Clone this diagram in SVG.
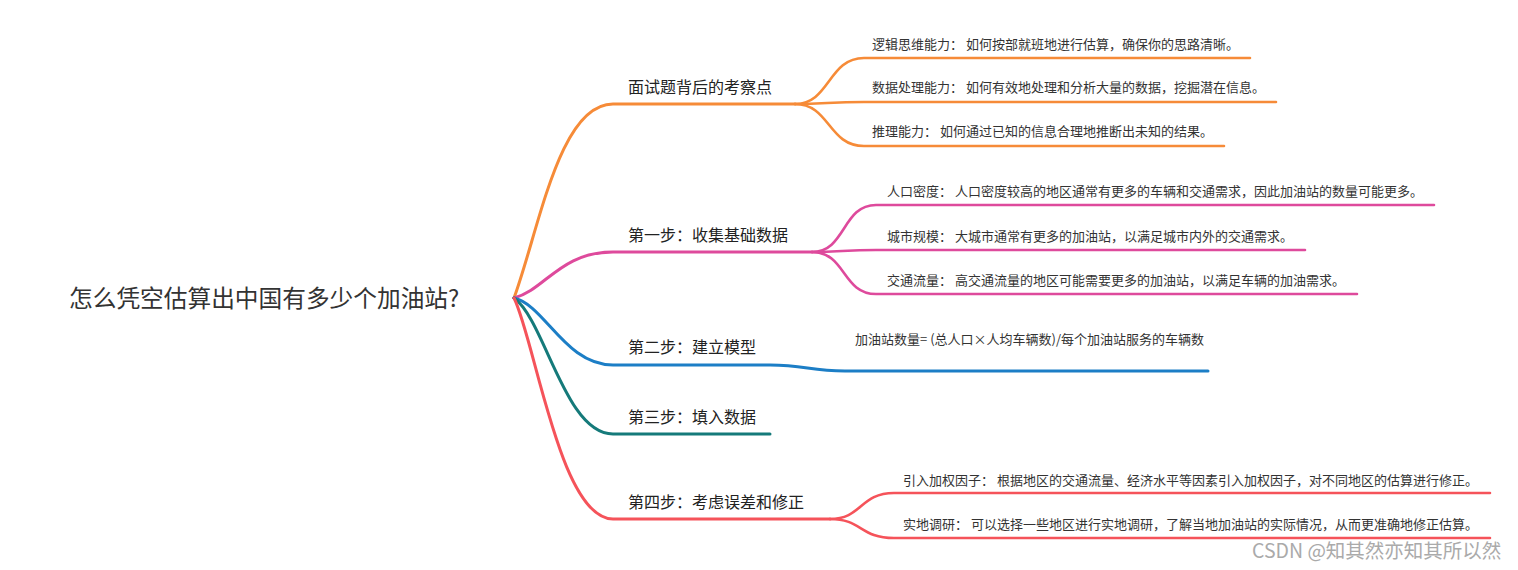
<svg xmlns="http://www.w3.org/2000/svg" width="1518" height="570" viewBox="0 0 1518 570">
<style>
text{font-family:"Noto Sans CJK SC","Noto Sans",sans-serif;fill:#333}
.root{font-size:23.7px;fill:#333}
.main{font-size:16px;fill:#222}
.sub{font-size:13px;fill:#333}
.wm{font-size:19.5px;fill:#aaa}
path{fill:none;stroke-linecap:round}
.m{stroke-width:3}
.s{stroke-width:2.6}
.o{stroke:#F68B38}.p{stroke:#DE4A9C}.b{stroke:#1C7EC6}.t{stroke:#157A7A}.r{stroke:#F5535A}
</style>
<g id="connectors">
<path class="m o" d="M514,298 C539,230 559,104 613,104 H795"/>
<path class="s o" d="M795,104 C830,104 828,58 864,58 H1250"/>
<path class="s o" d="M795,104 C825,104 830,102 864,102 H1276"/>
<path class="s o" d="M795,104 C830,104 828,146 864,146 H1224"/>
<path class="m p" d="M514,298 C545,290 560,252 613,252 H812"/>
<path class="s p" d="M812,252 C846,252 842,205 876,205 H1434"/>
<path class="s p" d="M812,252 C840,252 845,250 876,250 H1305"/>
<path class="s p" d="M812,252 C846,252 842,294 876,294 H1357"/>
<path class="m b" d="M514,298 C545,305 565,365 613,365 H770 C805,365 810,371 845,371 H1208"/>
<path class="m t" d="M514,298 C545,320 565,434 613,434 H770"/>
<path class="m r" d="M514,298 C535,340 560,519 613,519 H830"/>
<path class="s r" d="M830,519 C862,519 860,493 894,493 H1490"/>
<path class="s r" d="M830,519 C862,519 860,538 894,538 H1490"/>
</g>
<g id="root"><text class="root" x="69" y="307">怎么凭空估算出中国有多少个加油站?</text></g>
<g id="n1"><text class="main" x="628" y="93">面试题背后的考察点</text></g>
<g id="n1a"><text class="sub" x="872" y="49">逻辑思维能力： 如何按部就班地进行估算，确保你的思路清晰。</text></g>
<g id="n1b"><text class="sub" x="872" y="92">数据处理能力： 如何有效地处理和分析大量的数据，挖掘潜在信息。</text></g>
<g id="n1c"><text class="sub" x="872" y="136">推理能力： 如何通过已知的信息合理地推断出未知的结果。</text></g>
<g id="n2"><text class="main" x="628" y="241">第一步：收集基础数据</text></g>
<g id="n2a"><text class="sub" x="887" y="196">人口密度： 人口密度较高的地区通常有更多的车辆和交通需求，因此加油站的数量可能更多。</text></g>
<g id="n2b"><text class="sub" x="887" y="241">城市规模： 大城市通常有更多的加油站，以满足城市内外的交通需求。</text></g>
<g id="n2c"><text class="sub" x="887" y="285">交通流量： 高交通流量的地区可能需要更多的加油站，以满足车辆的加油需求。</text></g>
<g id="n3"><text class="main" x="628" y="353">第二步：建立模型</text></g>
<g id="n3a"><text class="sub" x="855" y="344">加油站数量= (总人口×人均车辆数)/每个加油站服务的车辆数</text></g>
<g id="n4"><text class="main" x="628" y="423">第三步：填入数据</text></g>
<g id="n5"><text class="main" x="628" y="508">第四步：考虑误差和修正</text></g>
<g id="n5a"><text class="sub" x="903" y="485">引入加权因子： 根据地区的交通流量、经济水平等因素引入加权因子，对不同地区的估算进行修正。</text></g>
<g id="n5b"><text class="sub" x="903" y="529">实地调研： 可以选择一些地区进行实地调研，了解当地加油站的实际情况，从而更准确地修正估算。</text></g>
<text class="wm" x="1252" y="558">CSDN @知其然亦知其所以然</text>
</svg>
